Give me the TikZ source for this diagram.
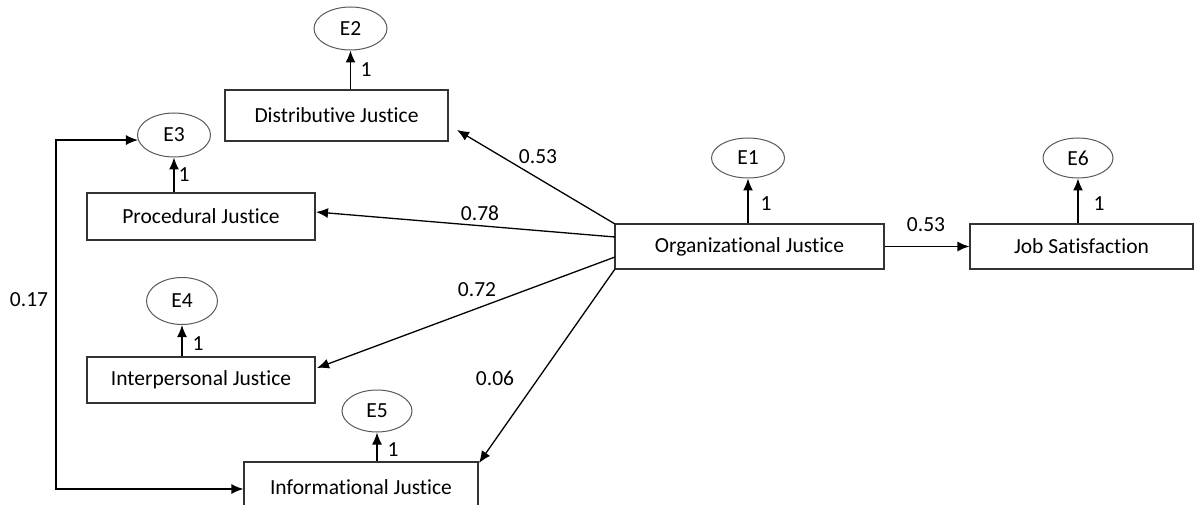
\documentclass[tikz,border=0pt]{standalone}
\usepackage{fontspec}
\setmainfont[Ligatures={NoCommon,NoRare,NoContextual}]{Carlito}
\usetikzlibrary{arrows.meta,shapes.geometric}
\begin{document}
\begin{tikzpicture}[x=1pt,y=-1pt,
  font=\fontsize{21.5}{25}\selectfont,
  box/.style={draw=black!80,line width=1.2pt,rectangle,inner sep=0pt,anchor=center},
  err/.style={draw=black!65,line width=1pt,ellipse,inner sep=0pt,anchor=center},
  arr/.style={line width=1.3pt,-{Latex[length=12pt,width=10pt]}},
  darr/.style={line width=1.3pt,{Latex[length=12pt,width=10pt]}-{Latex[length=12pt,width=10pt]}},
  lbl/.style={inner sep=0pt,anchor=center}]
\useasboundingbox (0,0) rectangle (1195,505);
\clip (0,0) rectangle (1195,505);
% boxes
\node[box,minimum width=223pt,minimum height=51pt] (dj) at (336.5,115.5) {Distributive Justice};
\node[box,minimum width=228pt,minimum height=47pt] (pj) at (201,216.5) {Procedural Justice};
\node[box,minimum width=228pt,minimum height=46pt] (ipj) at (201,380) {Interpersonal Justice};
\node[box,minimum width=234pt,minimum height=50pt] (ifj) at (361,487) {\raisebox{-1pt}{Informational Justice}};
\node[box,minimum width=269pt,minimum height=45pt] (oj) at (749.5,246.5) {Organizational Justice};
\node[box,minimum width=223pt,minimum height=45pt] (js) at (1081.5,246.5) {Job Satisfaction};
% error terms
\node[err,minimum width=73pt,minimum height=43pt] (e2) at (350.5,28.5) {E2};
\node[err,minimum width=73pt,minimum height=44pt] (e3) at (174,135) {E3};
\node[err,minimum width=71pt,minimum height=47pt] (e4) at (182,301) {E4};
\node[err,minimum width=70pt,minimum height=42pt] (e5) at (377,411) {E5};
\node[err,minimum width=73pt,minimum height=40pt] (e1) at (748,158) {E1};
\node[err,minimum width=70pt,minimum height=40pt] (e6) at (1078,158) {E6};
% error arrows
\draw[arr] (dj.north -| e2) -- (e2.south);
\draw[arr] (pj.north -| e3) -- (e3.south);
\draw[arr] (ipj.north -| e4) -- (e4.south);
\draw[arr] (ifj.north -| e5) -- (e5.south);
\draw[arr] (oj.north -| e1) -- (e1.south);
\draw[arr] (js.north -| e6) -- (e6.south);
\node[lbl] (l2) at (366,70) {1};
\node[lbl] (l3) at (184,175) {1};
\node[lbl] (l4) at (198,344) {1};
\node[lbl] (l5) at (393,450) {1};
\node[lbl] (l1) at (766,204) {1};
\node[lbl] (l6) at (1099,204) {1};
% structural paths
\coordinate (o1) at (615,224);
\coordinate (o2) at (615,237);
\coordinate (o3) at (615,257);
\coordinate (o4) at (615,269);
\coordinate (t1) at (457,130);
\coordinate (t2) at (316,212);
\coordinate (t3) at (317,368);
\coordinate (t4) at (479,463);
\draw[arr] (o1) -- (t1);
\draw[arr] (o2) -- (t2);
\draw[arr] (o3) -- (t3);
\draw[arr] (o4) -- (t4);
\draw[arr] (oj.east) -- (js.west);
\node[lbl] (w1) at (538,157) {0.53};
\node[lbl] (w2) at (480,213) {0.78};
\node[lbl] (w3) at (477,290) {0.72};
\node[lbl] (w4) at (495,378) {0.06};
\node[lbl] (w5) at (926,225) {0.53};
% covariance
\coordinate (cl) at (56,141);
\coordinate (cb) at (56,489);
\draw[darr] (e3.188) -- (e3.188 -| cl) -- (cb) -- (cb -| ifj.west);
\node[lbl] (w6) at (29,300) {0.17};
\end{tikzpicture}
\end{document}
